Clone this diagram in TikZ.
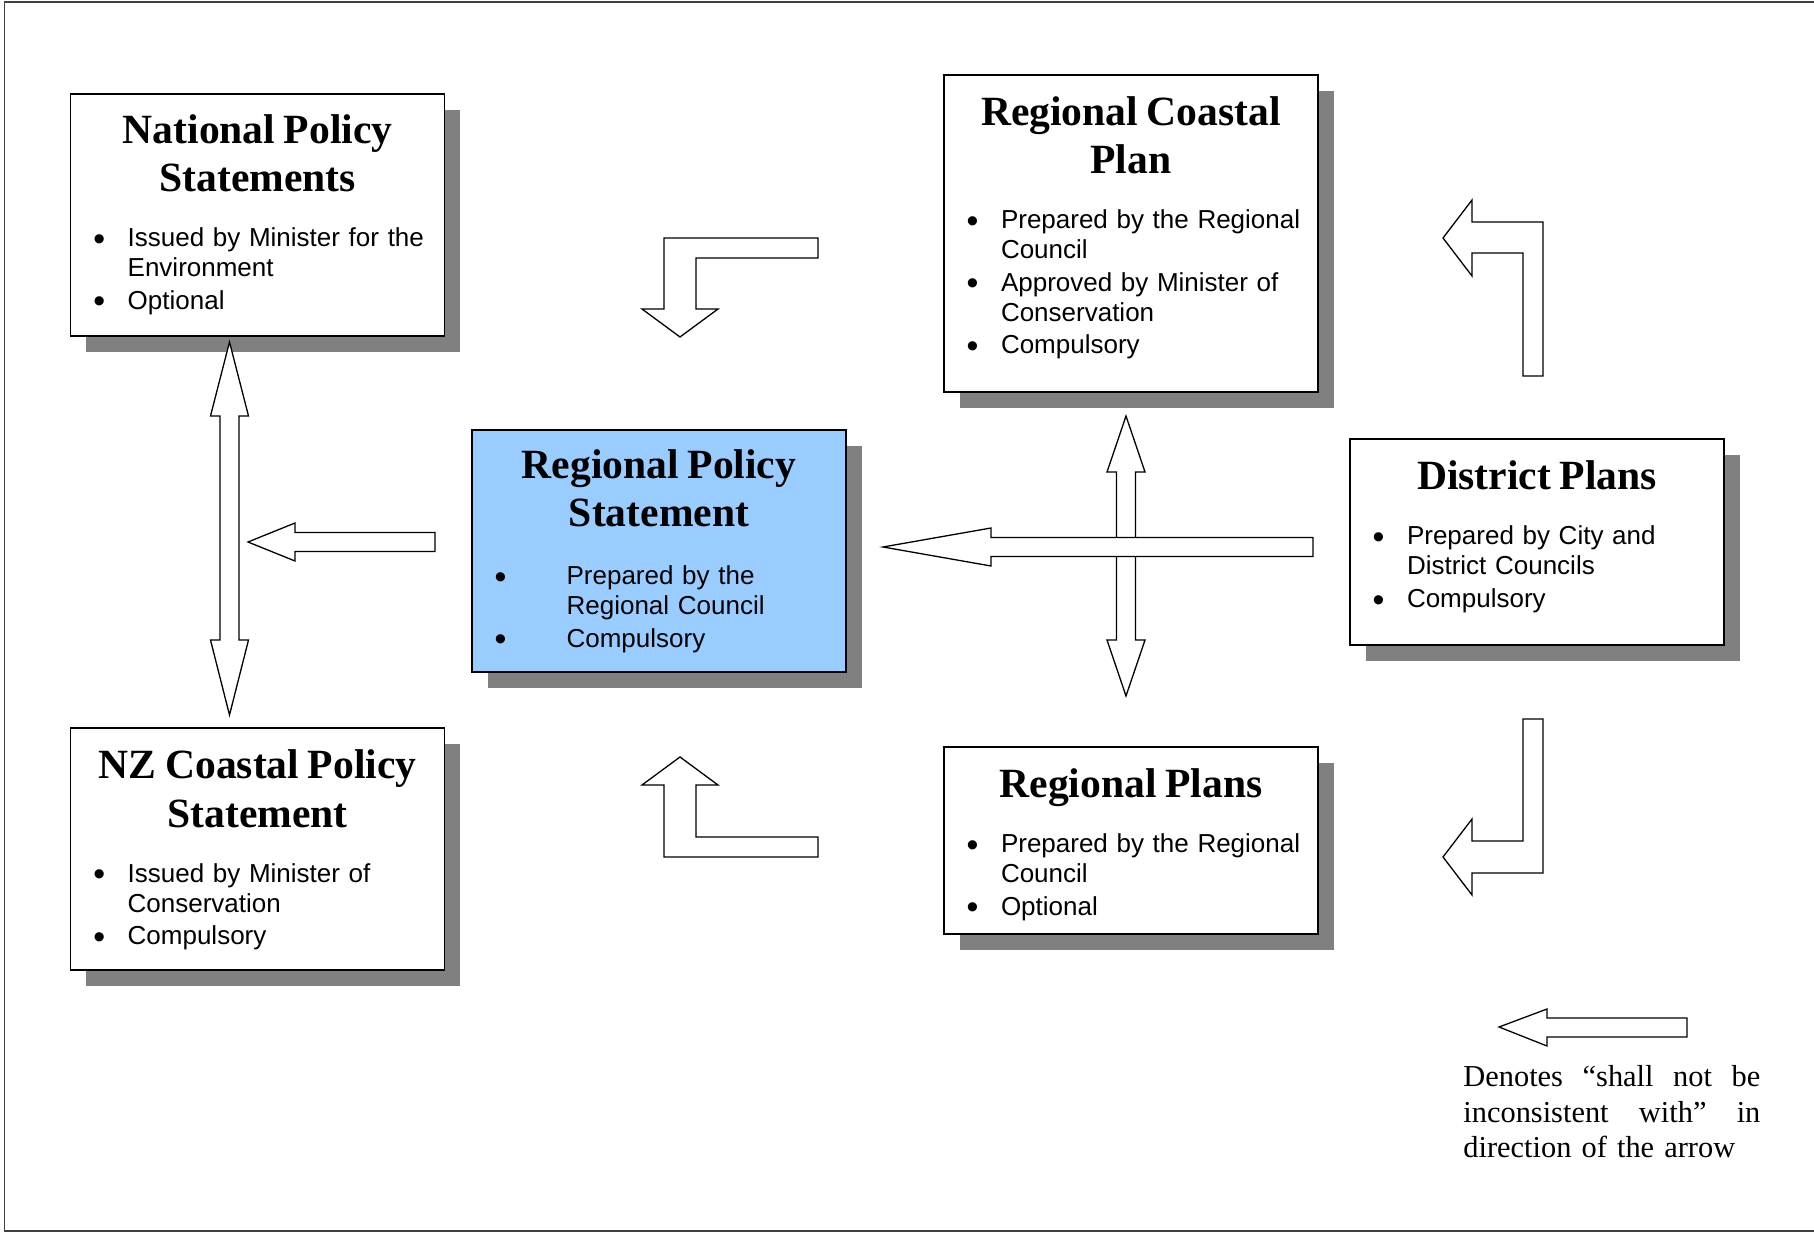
\documentclass[tikz,border=0pt]{standalone}
\usepackage{fontspec}
\setmainfont{Liberation Serif}
\newfontfamily\arialfont{Liberation Sans}
\usepackage{array}
\usepackage{xcolor}
\usepackage{tikz}
\usetikzlibrary{shadows}

\definecolor{rpsblue}{HTML}{99CCFF}
\newcommand{\titlefont}{\rmfamily\bfseries\fontsize{20.8}{24.2}\selectfont}
\newcommand{\bodyfont}{\arialfont\fontsize{13}{15}\selectfont}
% [#1] extra room above the title, #2 gap under the title, #3 title
\newcommand{\boxtitle}[3][0pt]{{\centering\titlefont\raisebox{0pt}[\dimexpr\fontcharht\font`\l+#1\relax][0pt]{}#3\par}\vspace{#2}\noindent}
\newcommand{\bdot}{\raisebox{-1.8pt}{\scalebox{1.3}{\textbullet}}}
% bullet column + text column
\newcolumntype{B}{@{\hspace*{1.8pt}}p{17.2pt}@{}l@{}}
\newcolumntype{W}{@{\hspace*{1.8pt}}p{36pt}@{}l@{}}

\begin{document}
\begin{tikzpicture}[
    x=0.5pt, y=-0.5pt,
    box/.style={rectangle, draw, line width=0.7pt, fill=white, minimum width=187pt, text width=168pt, inner xsep=9.5pt, inner ysep=0pt, font=\bodyfont, drop shadow={shadow xshift=7.8pt, shadow yshift=-7.8pt, opacity=1, fill=black!50}},
    blockarrow/.style={draw, fill=white, line width=0.65pt, line join=miter},
    legendtext/.style={text width=148.5pt, inner sep=0pt, font=\fontsize{15.2}{17.8}\selectfont},
    frame/.style={draw=black!75, line width=0.7pt}
]
    \useasboundingbox (0,0) rectangle (1814,1234);
    \draw[frame] (1814,2) -- (4.7,2) -- (4.7,1231) -- (1814,1231);

    % Policy statements and plans
    \node[box, minimum height=121pt] (nps) at (257.7,215) {\boxtitle[2.3pt]{12.5pt}{National Policy\\Statements}%
        \begin{tabular}[t]{B}
        \bdot & Issued by Minister for the\\
              & Environment\\[1.25pt]
        \bdot & Optional
        \end{tabular}};
    \node[box, minimum height=121pt] (nzcps) at (257.7,849) {\boxtitle[3.6pt]{12.5pt}{NZ Coastal Policy\\Statement}%
        \begin{tabular}[t]{B}
        \bdot & Issued by Minister of\\
              & Conservation\\[1.25pt]
        \bdot & Compulsory
        \end{tabular}};
    \node[box, minimum height=121pt, fill=rpsblue] (rps) at (659,551) {\boxtitle[2.6pt]{14pt}{Regional Policy\\Statement}%
        \begin{tabular}[t]{W}
        \bdot & Prepared by the\\
              & Regional Council\\[1.25pt]
        \bdot & Compulsory
        \end{tabular}};
    \node[box, minimum height=158.5pt] (rcp) at (1131,233.5) {\boxtitle{12.5pt}{Regional Coastal\\Plan}%
        \begin{tabular}[t]{B}
        \bdot & Prepared by the Regional\\
              & Council\\[1.25pt]
        \bdot & Approved by Minister of\\
              & Conservation\\[1.25pt]
        \bdot & Compulsory\\[4pt]
        \end{tabular}};
    \node[box, minimum height=93.5pt] (rp) at (1131,840.5) {\boxtitle[7pt]{11.35pt}{Regional Plans}%
        \begin{tabular}[t]{B}
        \bdot & Prepared by the Regional\\
              & Council\\[1.25pt]
        \bdot & Optional
        \end{tabular}};
    \node[box, minimum height=103pt] (dp) at (1537,542) {\boxtitle{12.5pt}{District Plans}%
        \begin{tabular}[t]{B}
        \bdot & Prepared by City and\\
              & District Councils\\[1.25pt]
        \bdot & Compulsory\\[3.2pt]
        \end{tabular}};

    % Left side arrows
    \draw[blockarrow] (229.5,342) -- (248.5,416) -- (239,416) -- (239,640) -- (248.5,640) -- (229.5,715) -- (210.5,640) -- (220,640) -- (220,416) -- (210.5,416) -- cycle;
    \draw[blockarrow] (248,542) -- (295,523) -- (295,532.5) -- (435,532.5) -- (435,551.5) -- (295,551.5) -- (295,561) -- cycle;

    % Bent arrows into the Regional Policy Statement side
    \draw[blockarrow] (818,238) -- (664,238) -- (664,309) -- (642,309) -- (680,337) -- (718,309) -- (696,309) -- (696,258) -- (818,258) -- cycle;
    \draw[blockarrow] (818,837) -- (696,837) -- (696,785) -- (718,785) -- (680,757) -- (642,785) -- (664,785) -- (664,857) -- (818,857) -- cycle;

    % Bent arrows from the District Plans
    \draw[blockarrow] (1523,376) -- (1543,376) -- (1543,222) -- (1472,222) -- (1472,200) -- (1443,238) -- (1472,276) -- (1472,253) -- (1523,253) -- cycle;
    \draw[blockarrow] (1523,719) -- (1543,719) -- (1543,873) -- (1472,873) -- (1472,895) -- (1443,857) -- (1472,819) -- (1472,841) -- (1523,841) -- cycle;

    % Centre cross
    \draw[blockarrow] (1126,416) -- (1145,472) -- (1135.5,472) -- (1135.5,640) -- (1145,640) -- (1126,696) -- (1107,640) -- (1116.5,640) -- (1116.5,472) -- (1107,472) -- cycle;
    \draw[blockarrow] (883,547) -- (991,528) -- (991,537.5) -- (1313,537.5) -- (1313,556.5) -- (991,556.5) -- (991,566) -- cycle;

    % Legend
    \draw[blockarrow] (1499,1027) -- (1547,1009) -- (1547,1018) -- (1687,1018) -- (1687,1037) -- (1547,1037) -- (1547,1046) -- cycle;
    \node[legendtext, anchor=north west] (legend) at (1463,1065.3) {Denotes\hfill “shall\hfill not\hfill be\\inconsistent\hfill with”\hfill in\\direction of the arrow};

\end{tikzpicture}
\end{document}
